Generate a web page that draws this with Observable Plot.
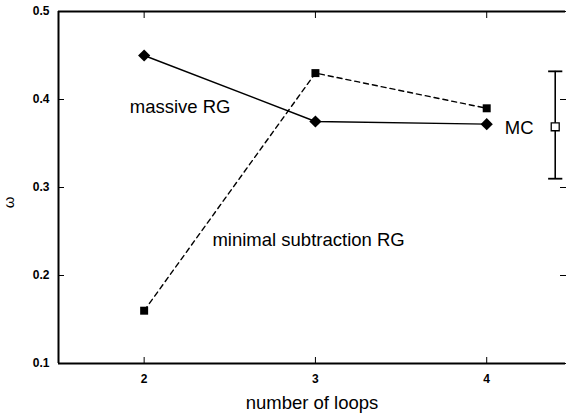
<!DOCTYPE html>
<html><head><meta charset="utf-8">
<script src="https://cdn.jsdelivr.net/npm/d3@7"></script>
<script src="https://cdn.jsdelivr.net/npm/@observablehq/plot@0.6"></script>
<style>body{margin:0;background:#fff}</style>
</head><body><div id="chart"></div>
<script>
const loops = [2, 3, 4];
const massiveRG = [0.45, 0.375, 0.372];
const minimalRG = [0.16, 0.43, 0.39];
const mcX = 4.40, mcValue = 0.369, mcLow = 0.310, mcHigh = 0.432;
const xTicks = [2, 3, 4];
const yTicks = [0.1, 0.2, 0.3, 0.4, 0.5];
const labels = [
  {x: 2.21, y: 0.391, text: "massive RG"},
  {x: 2.96, y: 0.240, text: "minimal subtraction RG"},
  {x: 4.19, y: 0.368, text: "MC"}
];

const massive = loops.map((x, i) => ({x, y: massiveRG[i]}));
const minimal = loops.map((x, i) => ({x, y: minimalRG[i]}));
const mc = [{x: mcX, y: mcValue, y1: mcLow, y2: mcHigh}];

const capSymbol = {draw(ctx, size) { const w = Math.sqrt(size); ctx.moveTo(-w, 0); ctx.lineTo(w, 0); }};

const plot = Plot.plot({
  width: 568, height: 419,
  marginLeft: 58, marginRight: 3, marginTop: 11, marginBottom: 56,
  style: {fontFamily: "Liberation Sans, Arial, sans-serif", background: "#fff", color: "#000"},
  x: {domain: [1.5, 4.46], ticks: xTicks},
  y: {domain: [0.1, 0.5], ticks: yTicks},
  marks: [
    Plot.ruleX([1.5], {strokeWidth: 2}),
    Plot.ruleY([0.1], {strokeWidth: 2}),
    Plot.ruleY([0.5], {strokeWidth: 2}),
    Plot.axisX({ticks: xTicks, tickSize: -6, tickPadding: 17, tickFormat: d => d, fontSize: 12, fontWeight: "bold", label: null}),
    Plot.axisX({anchor: "top", ticks: xTicks, tickSize: -6, tickFormat: () => "", label: null}),
    Plot.axisY({ticks: yTicks, tickSize: -6, tickPadding: 15, tickFormat: d => d.toFixed(1), fontSize: 12, fontWeight: "bold", label: null}),
    Plot.axisY({anchor: "right", ticks: yTicks, tickSize: -6, tickFormat: () => "", label: null}),
    Plot.text(["number of loops"], {frameAnchor: "bottom", dy: 45, fontSize: 18.5, fill: "#000"}),
    Plot.text(["ω"], {x: 1.5, y: 0.283, dx: -49, rotate: -90, fontSize: 15, fill: "#000"}),
    Plot.line(massive, {x: "x", y: "y", stroke: "#000", strokeWidth: 1.4}),
    Plot.line(minimal, {x: "x", y: "y", stroke: "#000", strokeWidth: 1.4, strokeDasharray: "5,4"}),
    Plot.dot(massive, {x: "x", y: "y", symbol: "diamond2", r: 5.5, fill: "#000"}),
    Plot.dot(minimal, {x: "x", y: "y", symbol: "square", r: 4.5, fill: "#000"}),
    Plot.ruleX(mc, {x: "x", y1: "y1", y2: "y2", strokeWidth: 1.6}),
    Plot.dot(mc, {x: "x", y: "y1", symbol: capSymbol, r: 4, stroke: "#000", strokeWidth: 1.8}),
    Plot.dot(mc, {x: "x", y: "y2", symbol: capSymbol, r: 4, stroke: "#000", strokeWidth: 1.8}),
    Plot.dot(mc, {x: "x", y: "y", symbol: "square", r: 4.5, fill: "#fff", stroke: "#000", strokeWidth: 1.3}),
    Plot.text(labels, {x: "x", y: "y", text: "text", fontSize: 18.5, fill: "#000"})
  ]
});
document.getElementById("chart").appendChild(plot);
</script>
</body></html>
